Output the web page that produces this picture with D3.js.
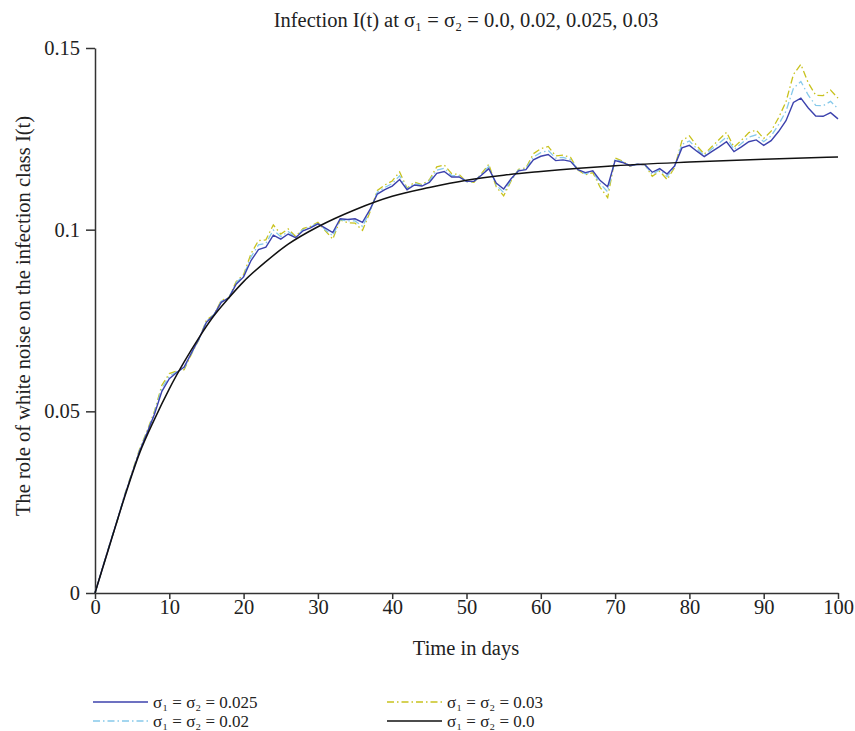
<!DOCTYPE html>
<html>
<head>
<meta charset="utf-8">
<script src="https://cdn.jsdelivr.net/npm/d3@7"></script>
<style>
  body { margin: 0; background: #fff; }
  svg text { font-family: "Liberation Serif", "DejaVu Serif", serif; fill: #222; }
  .axis path, .axis line { stroke: #333; stroke-width: 1.5; }
  .axis text { font-size: 20.5px; }
</style>
</head>
<body>
<script>
const xTicks = [0, 10, 20, 30, 40, 50, 60, 70, 80, 90, 100];
const yTicks = [0, 0.05, 0.1, 0.15];

// deterministic curve, sigma = 0
const detDays = [0, 2, 4, 6, 8, 10, 12, 14, 16, 18, 20, 23, 26, 30, 35, 40, 45, 50, 55, 60, 70, 80, 90, 100];
const det = [0, 0.0133, 0.0265, 0.0385, 0.0478, 0.0562, 0.0636, 0.0703, 0.0763, 0.0812, 0.0857, 0.0912,
  0.0960, 0.1008, 0.1055, 0.1092, 0.1116, 0.1136, 0.1150, 0.1160, 0.1176, 0.1186, 0.1194, 0.1200];

// stochastic runs, one value per day 0..100
const days = d3.range(0, 101);
const s025 = [0, 0.0068, 0.0135, 0.0200, 0.0268, 0.0330, 0.0390, 0.0440, 0.0492, 0.0555,
  0.0590, 0.0607, 0.0622, 0.0662, 0.0700, 0.0745, 0.0765, 0.0800, 0.0812, 0.0850,
  0.0870, 0.0915, 0.0945, 0.0952, 0.0985, 0.0974, 0.0988, 0.0978, 0.0997, 0.1005,
  0.1016, 0.1004, 0.0992, 0.1030, 0.1028, 0.1030, 0.1020, 0.1055, 0.1098, 0.1110,
  0.1120, 0.1138, 0.1110, 0.1123, 0.1120, 0.1130, 0.1155, 0.1160, 0.1145, 0.1145,
  0.1133, 0.1133, 0.1150, 0.1168, 0.1128, 0.1112, 0.1140, 0.1162, 0.1165, 0.1192,
  0.1202, 0.1207, 0.1190, 0.1192, 0.1188, 0.1165, 0.1157, 0.1162, 0.1135, 0.1118,
  0.1190, 0.1185, 0.1176, 0.1180, 0.1179, 0.1158, 0.1168, 0.1153, 0.1175, 0.1225,
  0.1232, 0.1216, 0.1201, 0.1215, 0.1228, 0.1242, 0.1215, 0.1228, 0.1242, 0.1247,
  0.1232, 0.1245, 0.1270, 0.1300, 0.1350, 0.1362, 0.1335, 0.1313, 0.1312, 0.1322,
  0.1305];
const s02 = [0, 0.0068, 0.0136, 0.0202, 0.0270, 0.0331, 0.0392, 0.0442, 0.0496, 0.0564,
  0.0597, 0.0609, 0.0619, 0.0660, 0.0699, 0.0748, 0.0766, 0.0803, 0.0812, 0.0854,
  0.0873, 0.0925, 0.0958, 0.0962, 0.0999, 0.0981, 0.0995, 0.0979, 0.1000, 0.1007,
  0.1018, 0.1000, 0.0983, 0.1028, 0.1024, 0.1024, 0.1009, 0.1051, 0.1103, 0.1116,
  0.1127, 0.1148, 0.1112, 0.1127, 0.1122, 0.1134, 0.1164, 0.1169, 0.1149, 0.1148,
  0.1132, 0.1131, 0.1152, 0.1174, 0.1123, 0.1102, 0.1137, 0.1164, 0.1167, 0.1200,
  0.1212, 0.1218, 0.1197, 0.1199, 0.1193, 0.1164, 0.1154, 0.1160, 0.1126, 0.1104,
  0.1194, 0.1187, 0.1176, 0.1180, 0.1179, 0.1152, 0.1165, 0.1146, 0.1173, 0.1235,
  0.1244, 0.1223, 0.1204, 0.1222, 0.1238, 0.1255, 0.1221, 0.1237, 0.1255, 0.1261,
  0.1242, 0.1258, 0.1289, 0.1326, 0.1389, 0.1408, 0.1370, 0.1342, 0.1341, 0.1353,
  0.1333];
const s03 = [0, 0.0068, 0.0136, 0.0198, 0.0271, 0.0333, 0.0396, 0.0446, 0.0500, 0.0572,
  0.0604, 0.0611, 0.0615, 0.0658, 0.0698, 0.0751, 0.0766, 0.0806, 0.0812, 0.0857,
  0.0876, 0.0934, 0.0970, 0.0972, 0.1013, 0.0988, 0.1002, 0.0981, 0.1003, 0.1009,
  0.1020, 0.0997, 0.0974, 0.1027, 0.1019, 0.1018, 0.0998, 0.1048, 0.1108, 0.1123,
  0.1134, 0.1159, 0.1114, 0.1131, 0.1124, 0.1137, 0.1173, 0.1178, 0.1154, 0.1152,
  0.1132, 0.1130, 0.1154, 0.1180, 0.1118, 0.1093, 0.1134, 0.1166, 0.1170, 0.1209,
  0.1223, 0.1229, 0.1203, 0.1205, 0.1199, 0.1164, 0.1151, 0.1157, 0.1116, 0.1088,
  0.1197, 0.1189, 0.1175, 0.1180, 0.1179, 0.1147, 0.1161, 0.1138, 0.1171, 0.1245,
  0.1258, 0.1231, 0.1208, 0.1228, 0.1248, 0.1268, 0.1227, 0.1246, 0.1267, 0.1274,
  0.1251, 0.1271, 0.1308, 0.1352, 0.1427, 0.1455, 0.1404, 0.1370, 0.1369, 0.1384,
  0.1362];

const labels = {
  s025: 'σ₁ = σ₂ = 0.025',
  s03: 'σ₁ = σ₂ = 0.03',
  s02: 'σ₁ = σ₂ = 0.02',
  det: 'σ₁ = σ₂ = 0.0'
};

const W = 855, H = 731;
const margin = { top: 48, right: 17, bottom: 138, left: 95 };
const width = W - margin.left - margin.right;
const height = H - margin.top - margin.bottom;

const svg = d3.select('body').append('svg')
  .attr('width', W)
  .attr('height', H);

const g = svg.append('g')
  .attr('transform', `translate(${margin.left},${margin.top})`);

const x = d3.scaleLinear().domain([0, 100]).range([0, width]);
const y = d3.scaleLinear().domain([0, 0.15]).range([height, 0]);

g.append('g')
  .attr('class', 'x axis')
  .attr('transform', `translate(0,${height})`)
  .call(d3.axisBottom(x).tickValues(xTicks).tickSize(6).tickSizeOuter(0))
  .selectAll('text').attr('y', 21).attr('dy', 0);

g.append('g')
  .attr('class', 'y axis')
  .call(d3.axisLeft(y).tickValues(yTicks).tickSize(9).tickSizeOuter(0).tickPadding(6)
    .tickFormat(d => d === 0 ? '0' : String(d)));

const series = [
  { key: 's03', values: s03, color: '#c8c21e', width: 1.3, dash: '7,3,1.5,3' },
  { key: 's02', values: s02, color: '#86c9ea', width: 1.3, dash: '7,3,1.5,3' },
  { key: 's025', values: s025, color: '#3c42ad', width: 1.4, dash: null }
];

const line = d3.line()
  .x(d => x(d[0]))
  .y(d => y(d[1]));

series.forEach(s => {
  g.append('path')
    .datum(days.map((t, i) => [t, s.values[i]]))
    .attr('fill', 'none')
    .attr('stroke', s.color)
    .attr('stroke-width', s.width)
    .attr('stroke-dasharray', s.dash)
    .attr('d', line);
});

g.append('path')
  .datum(detDays.map((t, i) => [t, det[i]]))
  .attr('fill', 'none')
  .attr('stroke', '#111')
  .attr('stroke-width', 1.5)
  .attr('d', line.curve(d3.curveMonotoneX));

svg.append('text')
  .attr('x', 466)
  .attr('y', 27)
  .attr('text-anchor', 'middle')
  .style('font-size', '20.5px')
  .text('Infection I(t) at σ₁ = σ₂ = 0.0, 0.02, 0.025, 0.03');

svg.append('text')
  .attr('x', 466)
  .attr('y', 655)
  .attr('text-anchor', 'middle')
  .style('font-size', '20.5px')
  .text('Time in days');

svg.append('text')
  .attr('transform', 'translate(30,316) rotate(-90)')
  .attr('text-anchor', 'middle')
  .style('font-size', '20.5px')
  .text('The role of white noise on the infection class I(t)');

const legendItems = [
  { key: 's025', x: 93, y: 702, color: '#3c42ad', width: 1.4, dash: null },
  { key: 's03', x: 387, y: 702, color: '#c8c21e', width: 1.3, dash: '7,3,1.5,3' },
  { key: 's02', x: 93, y: 721, color: '#86c9ea', width: 1.3, dash: '7,3,1.5,3' },
  { key: 'det', x: 387, y: 721, color: '#111', width: 1.5, dash: null }
];

const legend = svg.append('g');
legendItems.forEach(d => {
  legend.append('line')
    .attr('x1', d.x).attr('x2', d.x + 55)
    .attr('y1', d.y).attr('y2', d.y)
    .attr('stroke', d.color)
    .attr('stroke-width', d.width)
    .attr('stroke-dasharray', d.dash);
  legend.append('text')
    .attr('x', d.x + 60)
    .attr('y', d.y)
    .attr('dy', '0.33em')
    .style('font-size', '17px')
    .text(labels[d.key]);
});
</script>
</body>
</html>
